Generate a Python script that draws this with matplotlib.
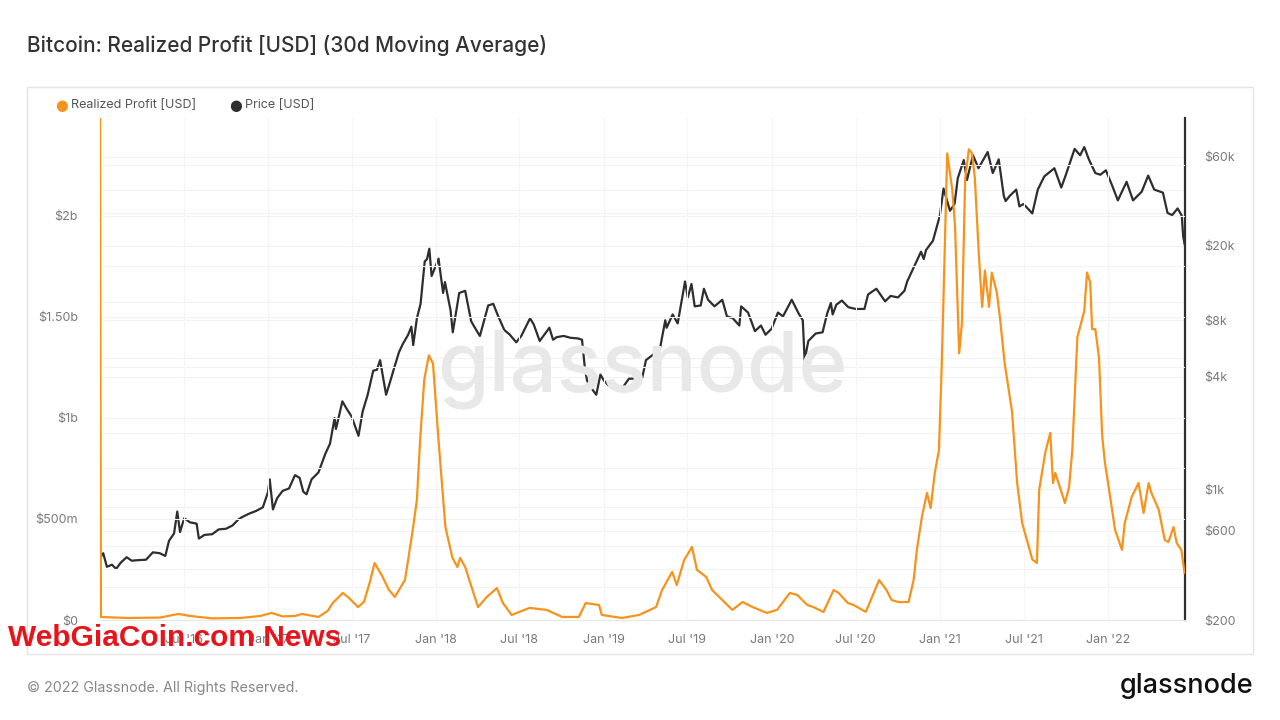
import matplotlib
matplotlib.use("Agg")
import matplotlib.pyplot as plt
from matplotlib.patches import Rectangle
import numpy as np
import pandas as pd

plt.rcParams['font.family'] = ['Inter', 'DejaVu Sans']

# BTC price [USD]
price_dates = [
    "2016-01-01", "2016-01-08", "2016-01-16", "2016-01-27", "2016-02-05", "2016-02-15", "2016-02-28",
    "2016-03-10", "2016-03-25", "2016-04-10", "2016-04-25", "2016-05-10", "2016-05-22", "2016-05-30",
    "2016-06-10", "2016-06-17", "2016-06-23", "2016-07-02", "2016-07-15", "2016-07-29", "2016-08-03",
    "2016-08-15", "2016-09-01", "2016-09-15", "2016-10-01", "2016-10-15", "2016-10-28", "2016-11-05",
    "2016-11-20", "2016-12-05", "2016-12-20", "2016-12-31",
    "2017-01-04", "2017-01-11", "2017-01-20", "2017-02-01", "2017-02-15", "2017-02-28", "2017-03-10",
    "2017-03-18", "2017-03-25", "2017-04-05", "2017-04-20", "2017-05-05", "2017-05-15", "2017-05-25",
    "2017-05-28", "2017-06-11", "2017-06-20", "2017-07-01", "2017-07-16", "2017-07-25", "2017-08-05",
    "2017-08-17", "2017-08-25", "2017-09-01", "2017-09-14", "2017-09-22", "2017-10-01", "2017-10-12",
    "2017-10-20", "2017-11-01", "2017-11-08", "2017-11-12", "2017-11-20", "2017-11-28", "2017-12-07",
    "2017-12-12", "2017-12-17", "2017-12-22", "2017-12-28",
    "2018-01-06", "2018-01-16", "2018-01-20", "2018-02-01", "2018-02-06", "2018-02-20", "2018-03-05",
    "2018-03-18", "2018-04-01", "2018-04-06", "2018-04-24", "2018-05-05", "2018-05-15", "2018-05-29",
    "2018-06-10", "2018-06-24", "2018-07-05", "2018-07-24", "2018-08-01", "2018-08-14", "2018-09-04",
    "2018-09-12", "2018-09-20", "2018-10-05", "2018-10-20", "2018-11-05", "2018-11-14", "2018-11-20",
    "2018-11-25", "2018-12-07", "2018-12-15", "2018-12-24",
    "2019-01-01", "2019-01-10", "2019-01-20", "2019-02-07", "2019-02-24", "2019-03-10", "2019-03-25",
    "2019-04-02", "2019-04-20", "2019-05-01", "2019-05-14", "2019-05-17", "2019-05-30", "2019-06-10",
    "2019-06-26", "2019-07-02", "2019-07-10", "2019-07-17", "2019-07-30", "2019-08-06", "2019-08-15",
    "2019-08-29", "2019-09-15", "2019-09-25", "2019-10-08", "2019-10-22", "2019-10-26", "2019-11-10",
    "2019-11-25", "2019-12-08", "2019-12-18", "2019-12-31",
    "2020-01-14", "2020-01-25", "2020-02-13", "2020-02-28", "2020-03-08", "2020-03-12", "2020-03-20",
    "2020-04-05", "2020-04-20", "2020-04-30", "2020-05-08", "2020-05-12", "2020-05-20", "2020-06-01",
    "2020-06-15", "2020-07-01", "2020-07-20", "2020-07-28", "2020-08-15", "2020-09-03", "2020-09-15",
    "2020-10-01", "2020-10-15", "2020-10-21", "2020-11-05", "2020-11-20", "2020-11-26", "2020-12-01",
    "2020-12-16", "2020-12-31",
    "2021-01-08", "2021-01-22", "2021-02-01", "2021-02-08", "2021-02-21", "2021-02-28", "2021-03-13",
    "2021-03-25", "2021-04-14", "2021-04-25", "2021-05-08", "2021-05-19", "2021-05-23", "2021-06-01",
    "2021-06-15", "2021-06-22", "2021-07-01", "2021-07-20", "2021-08-01", "2021-08-15", "2021-09-06",
    "2021-09-21", "2021-10-01", "2021-10-20", "2021-11-01", "2021-11-10", "2021-11-20", "2021-12-04",
    "2021-12-15", "2021-12-27",
    "2022-01-10", "2022-01-22", "2022-02-10", "2022-02-24", "2022-03-15", "2022-03-29", "2022-04-11",
    "2022-04-30", "2022-05-10", "2022-05-20", "2022-06-01", "2022-06-10", "2022-06-13", "2022-06-16",
]
price_values = [
    430, 455, 385, 395, 375, 405, 433,
    415, 418, 420, 460, 455, 440, 530,
    580, 760, 590, 700, 665, 655, 545,
    570, 575, 610, 615, 640, 690, 710,
    740, 765, 800, 960,
    1130, 780, 895, 980, 1010, 1190, 1150,
    970, 940, 1130, 1230, 1550, 1750, 2400,
    2100, 2950, 2700, 2450, 1930, 2600, 3200,
    4300, 4350, 4900, 3200, 3700, 4400, 5400,
    5950, 6700, 7400, 5900, 8200, 9800, 16500,
    17000, 19300, 13800, 15000,
    17100, 11200, 12800, 9100, 6900, 11200, 11500,
    7900, 6900, 6600, 9600, 9800, 8500, 7100,
    6700, 6100, 6600, 8200, 7600, 6200, 7300,
    6300, 6500, 6600, 6450, 6400, 6300, 4500,
    3800, 3400, 3200, 4100,
    3800, 3600, 3550, 3400, 3900, 3900, 3950,
    4900, 5300, 5400, 8000, 7300, 8600, 7700,
    12900, 10600, 12500, 9500, 9600, 11800, 10300,
    9500, 10300, 8400, 8200, 7500, 9500, 8800,
    7000, 7500, 6700, 7200,
    8800, 8400, 10300, 8700, 8000, 4900, 6200,
    6800, 6900, 8700, 9900, 8600, 9700, 10200,
    9400, 9200, 9200, 11000, 11800, 10100, 10800,
    10600, 11500, 12900, 15500, 18600, 17000, 19000,
    21300, 29000,
    40500, 30800, 33500, 46000, 57500, 45000, 61000,
    52000, 63500, 49000, 58000, 37000, 34700, 37000,
    40000, 32500, 33500, 29800, 40000, 47000, 52000,
    41000, 48000, 66000, 61000, 67500, 58000, 49000,
    48000, 50700,
    41800, 35000, 44000, 35000, 39000, 47500, 40000,
    38500, 30000, 29200, 31700, 29000, 22500, 20500,
]

# Realized profit, 30d MA [USD millions]
profit_dates = [
    "2016-01-01", "2016-01-03", "2016-03-01", "2016-05-10", "2016-06-20", "2016-07-15", "2016-09-01",
    "2016-11-01", "2016-12-15", "2017-01-08", "2017-02-01", "2017-03-01", "2017-03-15", "2017-04-20",
    "2017-05-10", "2017-05-21", "2017-06-12", "2017-06-25", "2017-07-15", "2017-07-28", "2017-08-10",
    "2017-08-20", "2017-09-05", "2017-09-20", "2017-10-03", "2017-10-25", "2017-11-10", "2017-11-20",
    "2017-11-27", "2017-12-06", "2017-12-16", "2017-12-25", "2018-01-06", "2018-01-21", "2018-02-05",
    "2018-02-16", "2018-02-22", "2018-03-05", "2018-03-16", "2018-04-02", "2018-04-21", "2018-05-13",
    "2018-05-26", "2018-06-14", "2018-07-23", "2018-08-29", "2018-10-02", "2018-11-07", "2018-11-22",
    "2018-12-21", "2018-12-27", "2019-02-09", "2019-03-18", "2019-04-24", "2019-05-07", "2019-05-29",
    "2019-06-08", "2019-06-24", "2019-07-11", "2019-07-22", "2019-08-11", "2019-08-24", "2019-09-15",
    "2019-10-07", "2019-10-29", "2019-11-20", "2019-12-21", "2020-01-12", "2020-02-09", "2020-02-25",
    "2020-03-18", "2020-03-31", "2020-04-22", "2020-05-14", "2020-05-25", "2020-06-14", "2020-06-27",
    "2020-07-23", "2020-08-21", "2020-09-06", "2020-09-17", "2020-10-02", "2020-10-24", "2020-11-04",
    "2020-11-11", "2020-11-22", "2020-12-03", "2020-12-11", "2020-12-20", "2020-12-29", "2021-01-04",
    "2021-01-16", "2021-01-22", "2021-01-27", "2021-02-02", "2021-02-11", "2021-02-17", "2021-02-24",
    "2021-03-04", "2021-03-11", "2021-03-17", "2021-03-26", "2021-04-02", "2021-04-08", "2021-04-17",
    "2021-04-23", "2021-05-04", "2021-05-11", "2021-05-21", "2021-06-06", "2021-06-17", "2021-06-28",
    "2021-07-20", "2021-07-30", "2021-08-04", "2021-08-17", "2021-08-28", "2021-09-03", "2021-09-08",
    "2021-09-29", "2021-10-08", "2021-10-15", "2021-10-26", "2021-11-10", "2021-11-16", "2021-11-23",
    "2021-11-27", "2021-12-04", "2021-12-12", "2021-12-19", "2021-12-25", "2022-01-03", "2022-01-16",
    "2022-01-31", "2022-02-06", "2022-02-21", "2022-03-08", "2022-03-19", "2022-03-30", "2022-04-05",
    "2022-04-21", "2022-05-04", "2022-05-12", "2022-05-23", "2022-05-30", "2022-06-09", "2022-06-16",
]
profit_values = [
    2600, 15, 10, 12, 30, 20, 8,
    10, 20, 35, 18, 20, 30, 15,
    45, 84, 134, 110, 64, 90, 190,
    282, 220, 150, 114, 198, 430, 595,
    890, 1190, 1310, 1270, 890, 460, 310,
    262, 307, 262, 183, 64, 114, 158,
    84, 25, 60, 50, 15, 15, 84,
    74, 25, 10, 25, 64, 148, 238,
    173, 297, 361, 248, 213, 148, 99,
    50, 89, 64, 35, 50, 134, 124,
    74, 64, 40, 148, 134, 84, 74,
    40, 198, 148, 99, 89, 89, 198,
    347, 510, 629, 554, 728, 842, 1250,
    2310, 2210, 2130, 1950, 1320, 1470, 2180,
    2330, 2310, 2190, 1800, 1550, 1730, 1550,
    1720, 1620, 1490, 1270, 1030, 680, 480,
    300, 282, 644, 827, 926, 678, 728,
    579, 658, 842, 1400, 1530, 1720, 1670,
    1440, 1440, 1300, 910, 777, 644, 446,
    347, 480, 609, 678, 530, 678, 629,
    545, 396, 386, 460, 381, 347, 233,
]

profit_ticks = [0, 0.5e9, 1e9, 1.5e9, 2e9]
profit_labels = ["$0", "$500m", "$1b", "$1.50b", "$2b"]
price_ticks = [200, 600, 1000, 4000, 8000, 20000, 60000]
price_labels = ["$200", "$600", "$1k", "$4k", "$8k", "$20k", "$60k"]
x_ticks = ["2016-07-01", "2017-01-01", "2017-07-01", "2018-01-01", "2018-07-01", "2019-01-01",
           "2019-07-01", "2020-01-01", "2020-07-01", "2021-01-01", "2021-07-01", "2022-01-01"]
x_labels = ["Jul '16", "Jan '17", "Jul '17", "Jan '18", "Jul '18", "Jan '19",
            "Jul '19", "Jan '20", "Jul '20", "Jan '21", "Jul '21", "Jan '22"]

ORANGE = "#f7931a"
DARK = "#2e2e2e"
GREY = "#7a7a7a"

pdates = pd.to_datetime(price_dates)
rdates = pd.to_datetime(profit_dates)
profit = np.array(profit_values) * 1e6

fig = plt.figure(figsize=(12.8, 7.2), dpi=100)
fig.patch.set_facecolor("white")

# panel frame
fig.patches.append(Rectangle((27 / 1280, 1 - 654 / 720), 1226 / 1280, 567 / 720,
                             transform=fig.transFigure, fill=False,
                             edgecolor="#e4e4e4", linewidth=1.0))

ax = fig.add_axes([100 / 1280, 1 - 620 / 720, 1085 / 1280, 502 / 720])
ax2 = ax.twinx()
ax.set_zorder(ax2.get_zorder() + 1)
ax.patch.set_visible(False)

# price (right, log)
ax2.set_yscale("log")
ax2.plot(pdates, price_values, color=DARK, lw=1.6, zorder=3)
ax2.set_ylim(200, 96500)
ax2.set_yticks(price_ticks)
ax2.set_yticklabels(price_labels)
ax2.yaxis.set_minor_locator(matplotlib.ticker.NullLocator())
for v in [300, 500, 800, 2000, 5000, 10000, 30000, 40000] + price_ticks:
    ax2.axhline(v, color="#f2f2f2", lw=0.8, zorder=0)

# realized profit (left, linear)
ax.plot(rdates, profit, color=ORANGE, lw=1.6, zorder=4)
ax.set_ylim(0, 2.485e9)
ax.set_yticks(profit_ticks)
ax.set_yticklabels(profit_labels)
for v in np.arange(0.25e9, 2.5e9, 0.25e9):
    ax.axhline(v, color="#f2f2f2", lw=0.8, zorder=0)

xt = pd.to_datetime(x_ticks)
ax.set_xticks(xt)
ax.set_xticklabels(x_labels)
for d in xt:
    ax.axvline(d, color="#f5f5f5", lw=0.8, zorder=0)
ax.set_xlim(pd.Timestamp("2016-01-01"), pd.Timestamp("2022-06-17"))

for a in (ax, ax2):
    for s in a.spines.values():
        s.set_visible(False)
    a.tick_params(length=0, colors=GREY, labelsize=9)
ax2.spines["right"].set_visible(True)
ax2.spines["right"].set_color(DARK)
ax2.spines["right"].set_linewidth(1.6)
ax.spines["bottom"].set_visible(True)
ax.spines["bottom"].set_color("#e6e6e6")
ax.tick_params(axis="y", pad=16)
ax2.tick_params(axis="y", pad=14)
ax.tick_params(axis="x", pad=10)

# big watermark
ax.text(0.5, 0.5, "glassnode", transform=ax.transAxes, ha="center", va="center",
        fontsize=60, color="#e8e8e8", zorder=1, fontweight="medium")

# titles, legend, footer
fig.text(27 / 1280, 1 - 46 / 720, "Bitcoin: Realized Profit [USD] (30d Moving Average)",
         fontsize=15, color="#333333", va="center", fontweight="medium")
fig.text(62 / 1280, 1 - 105 / 720, "●", color=ORANGE, fontsize=10.5, va="center", ha="center",
         family=["DejaVu Sans"])
fig.text(71 / 1280, 1 - 105 / 720, "Realized Profit [USD]", color="#555555", fontsize=9, va="center")
fig.text(236 / 1280, 1 - 105 / 720, "●", color=DARK, fontsize=10.5, va="center", ha="center",
         family=["DejaVu Sans"])
fig.text(245 / 1280, 1 - 105 / 720, "Price [USD]", color="#555555", fontsize=9, va="center")
fig.text(27 / 1280, 1 - 688 / 720, "© 2022 Glassnode. All Rights Reserved.", color="#888888",
         fontsize=10.3, va="center")
fig.text(1253 / 1280, 1 - 686 / 720, "glassnode", color="#111111", fontsize=19.5, va="center",
         ha="right", fontweight="medium")

# site stamp
fig.text(8 / 1280, 1 - 638 / 720, "WebGiaCoin.com News", color="#e8141b", fontsize=21.5,
         fontweight="bold", va="center", family=["Liberation Sans", "DejaVu Sans"])

fig.savefig("out.png", dpi=100, facecolor="white")
